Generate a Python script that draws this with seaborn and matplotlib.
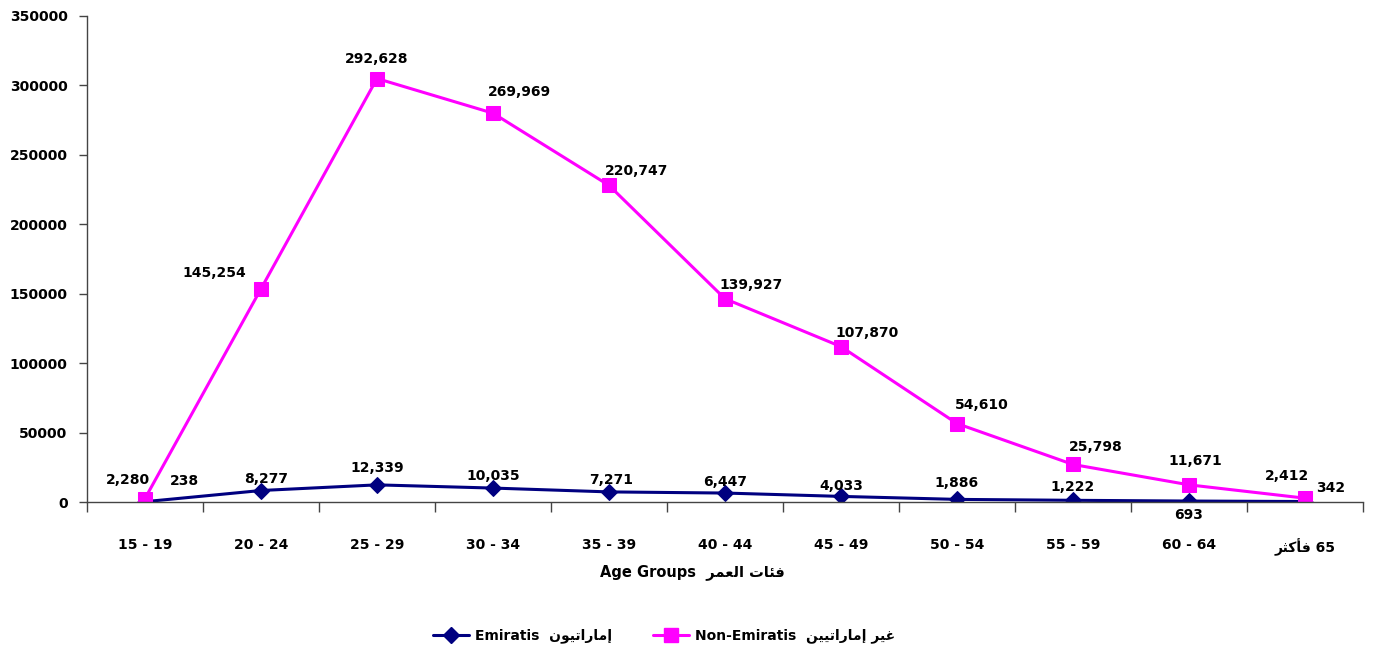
import matplotlib
matplotlib.use("Agg")
import matplotlib.pyplot as plt
import seaborn as sns
import pandas as pd
import numpy as np
from matplotlib.lines import Line2D

# ---------------- data ----------------
age_groups = ["15 - 19", "20 - 24", "25 - 29", "30 - 34", "35 - 39", "40 - 44",
              "45 - 49", "50 - 54", "55 - 59", "60 - 64", "65 فأكثر"]
emiratis = [238, 8277, 12339, 10035, 7271, 6447, 4033, 1886, 1222, 693, 342]
non_emiratis = [2280, 145254, 292628, 269969, 220747, 139927, 107870, 54610, 25798, 11671, 2412]
series_en = ["Emiratis", "Non-Emiratis"]
series_ar = ["إماراتيون", "غير إماراتيين"]
xlabel_en = "Age Groups"
xlabel_ar = "فئات العمر"
yticks = [0, 50000, 100000, 150000, 200000, 250000, 300000, 350000]

# ---------------- simple Arabic shaping (logical -> visual) ----------------
FORMS = {
    '\u0641': ('\uFED1', '\uFED2', '\uFED3', '\uFED4'),
    '\u0626': ('\uFE89', '\uFE8A', '\uFE8B', '\uFE8C'),
    '\u0627': ('\uFE8D', '\uFE8E', None, None),
    '\u062A': ('\uFE95', '\uFE96', '\uFE97', '\uFE98'),
    '\u0644': ('\uFEDD', '\uFEDE', '\uFEDF', '\uFEE0'),
    '\u0639': ('\uFEC9', '\uFECA', '\uFECB', '\uFECC'),
    '\u0645': ('\uFEE1', '\uFEE2', '\uFEE3', '\uFEE4'),
    '\u0631': ('\uFEAD', '\uFEAE', None, None),
    '\u0625': ('\uFE87', '\uFE88', None, None),
    '\u064A': ('\uFEF1', '\uFEF2', '\uFEF3', '\uFEF4'),
    '\u0648': ('\uFEED', '\uFEEE', None, None),
    '\u0646': ('\uFEE5', '\uFEE6', '\uFEE7', '\uFEE8'),
    '\u063A': ('\uFECD', '\uFECE', '\uFECF', '\uFED0'),
    '\u0623': ('\uFE83', '\uFE84', None, None),
    '\u0643': ('\uFED9', '\uFEDA', '\uFEDB', '\uFEDC'),
    '\u062B': ('\uFE99', '\uFE9A', '\uFE9B', '\uFE9C'),
}


def dual(c):
    return c in FORMS and FORMS[c][2] is not None


def shape_word(w):
    out = []
    for i, c in enumerate(w):
        if c not in FORMS:
            out.append(c)
            continue
        p = i > 0 and dual(w[i - 1])
        n = i < len(w) - 1 and w[i + 1] in FORMS and dual(c)
        if p and n:
            out.append(FORMS[c][3])
        elif p:
            out.append(FORMS[c][1])
        elif n:
            out.append(FORMS[c][2])
        else:
            out.append(FORMS[c][0])
    return "".join(out)


def visual(text):
    # words in RTL order; digit runs stay left-to-right
    words = text.split(" ")
    shaped = []
    for w in words:
        if any(ch in FORMS for ch in w):
            shaped.append(shape_word(w)[::-1])
        else:
            shaped.append(w)
    return " ".join(shaped[::-1])


tick_labels = [visual(g) if any(ch in FORMS for ch in g) else g for g in age_groups]

# ---------------- figure ----------------
sns.set_style("ticks")
plt.rcParams['font.family'] = ['DejaVu Sans']
plt.rcParams['font.weight'] = 'bold'
plt.rcParams['text.color'] = 'black'
plt.rcParams['xtick.color'] = 'black'
plt.rcParams['ytick.color'] = 'black'
plt.rcParams['xtick.labelcolor'] = 'black'
plt.rcParams['ytick.labelcolor'] = 'black'

W, H = 1373, 653
fig = plt.figure(figsize=(W / 100, H / 100), dpi=100)
ax = fig.add_axes([87 / W, 1 - 502 / H, (1363 - 87) / W, (502 - 16) / H])

x = np.arange(len(age_groups))
stacked = np.array(emiratis) + np.array(non_emiratis)
df = pd.DataFrame({"x": np.concatenate([x, x]),
                   "value": np.concatenate([emiratis, stacked]),
                   "series": [series_en[0]] * len(x) + [series_en[1]] * len(x)})

blue = "#000080"
pink = "#FF00FF"
sns.lineplot(data=df[df.series == series_en[0]], x="x", y="value", ax=ax,
             color=blue, lw=2.2, marker="D", markersize=8, markeredgecolor=blue,
             legend=False)
sns.lineplot(data=df[df.series == series_en[1]], x="x", y="value", ax=ax,
             color=pink, lw=2.2, marker="s", markersize=9.5, markeredgecolor=pink,
             legend=False)

ax.set_xlim(-0.5, len(x) - 0.5)
ax.set_ylim(0, 350000)
ax.set_yticks(yticks)
ax.set_yticklabels([str(v) for v in yticks])
ax.tick_params(axis='y', length=6, width=1, pad=8, labelsize=10, color="#444444")

ax.set_xticks(np.arange(-0.5, len(x), 1.0))
ax.set_xticklabels([])
ax.tick_params(axis='x', which='major', length=7, width=1, color="#444444")
ax.set_xticks(x, minor=True)
ax.set_xticklabels(tick_labels, minor=True)
ax.tick_params(axis='x', which='minor', length=0, pad=26, labelsize=10)

for s in ["top", "right"]:
    ax.spines[s].set_visible(False)
for s in ["left", "bottom"]:
    ax.spines[s].set_color("#444444")
    ax.spines[s].set_linewidth(1)
ax.set_xlabel("")
ax.set_ylabel("")

# data labels (offsets in pixels)
blue_off = [(39, 21), (5, 12), (0, 17), (0, 12), (2, 12), (0, 11), (0, 10), (0, 16), (0, 13), (0, -14), (26, 14)]
pink_off = [(-17, 19), (-47, 16), (0, 20), (26, 21), (28, 14), (26, 14), (26, 14), (25, 19), (23, 17), (6, 24), (-18, 22)]
for i in range(len(x)):
    ax.annotate(f"{emiratis[i]:,}", (x[i], emiratis[i]), textcoords="offset pixels",
                xytext=blue_off[i], ha="center", va="center", fontsize=10,
                fontweight="bold", color="black")
    ax.annotate(f"{non_emiratis[i]:,}", (x[i], stacked[i]), textcoords="offset pixels",
                xytext=pink_off[i], ha="center", va="center", fontsize=10,
                fontweight="bold", color="black")

fig.text(692 / W, 1 - 572 / H, xlabel_en + "  " + visual(xlabel_ar),
         ha="center", va="center", fontsize=10.5, fontweight="bold")

handles = [Line2D([0], [0], color=blue, lw=2.2, marker="D", markersize=8),
           Line2D([0], [0], color=pink, lw=2.2, marker="s", markersize=9.5)]
labels = [series_en[0] + "  " + visual(series_ar[0]),
          series_en[1] + "  " + visual(series_ar[1])]
fig.legend(handles, labels, loc="center", bbox_to_anchor=(664 / W, 1 - 636 / H),
           ncol=2, frameon=False, fontsize=10, columnspacing=3.0,
           handlelength=2.6, handletextpad=0.4)

fig.savefig("out.png", dpi=100, facecolor="white")
